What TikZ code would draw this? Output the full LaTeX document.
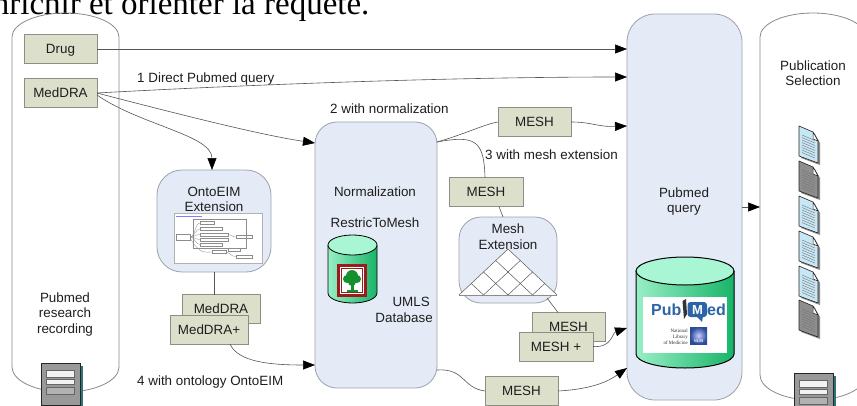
\documentclass[tikz,border=0pt]{standalone}
\usepackage{fontspec}
\setmainfont{Liberation Sans}
\newfontfamily\serifface{Liberation Serif}
\usetikzlibrary{arrows.meta}
\definecolor{boxfill}{HTML}{DCE0CA}
\definecolor{boxdraw}{HTML}{8E8F84}
\definecolor{rfill}{HTML}{E5EBF6}
\definecolor{rdraw}{HTML}{9CA2AC}
\definecolor{cyldraw}{HTML}{8A8A8A}
\definecolor{linecol}{HTML}{555555}
\definecolor{txt}{HTML}{1E1E1E}
\definecolor{pubblue}{HTML}{2D64A8}
\definecolor{gtop}{HTML}{A9F6D5}
\definecolor{gleft}{HTML}{98EFC6}
\definecolor{gright}{HTML}{17B468}
\definecolor{docblue}{HTML}{C8E7F6}
\definecolor{docgray}{HTML}{8E8E8E}
\definecolor{srvshadow}{HTML}{2F7476}
\definecolor{treegreen}{HTML}{14902C}
\definecolor{framered}{HTML}{9A1C1C}
\definecolor{nlmblue}{HTML}{2A4A9A}

\newcommand{\DocIcon}[3]{%
 \begin{scope}[shift={(#1,#2)}]
  \fill[black!45] (2,2) -- (16,8) -- (21,17) -- (21,39) -- (2,32) -- cycle;
  \draw[black!85, fill=#3, line width=0.6pt, line join=round] (0,0) -- (14,6) -- (19,15) -- (19,37) -- (0,30) -- cycle;
  \draw[black!85, fill=white, line width=0.5pt, line join=round] (14,6) -- (14,13) -- (19,15) -- cycle;
  \foreach \k in {0,...,7} \draw[black!55, line width=0.4pt] (3,9+2.5*\k) -- (16,14.6+2.5*\k);
 \end{scope}}

\newcommand{\ServerIcon}[2]{%
 \begin{scope}[shift={(#1,#2)}]
  \fill[srvshadow] (3,3) rectangle (42,45);
  \draw[black!85, fill=black!40, line width=1pt] (0,0) rectangle (39,42);
  \draw[black!60, fill=black!5, line width=0.5pt] (5,7) rectangle (33,14);
  \draw[black!60, fill=black!5, line width=0.5pt] (5,16) rectangle (33,21);
  \draw[black!60, fill=black!30, line width=0.5pt] (5,24) rectangle (33,31);
 \end{scope}}

\begin{document}
\begin{tikzpicture}[x=1pt,y=-1pt, font=\fontsize{13.4}{15.5}\selectfont]
\tikzset{
 gbox/.style={draw=boxdraw, fill=boxfill, line width=0.7pt, minimum width=73pt, minimum height=29pt, inner sep=0pt, outer sep=0pt, text height=9.6pt, text depth=0pt, text=txt},
 rbox/.style={draw=rdraw, fill=rfill, line width=0.8pt, rounded corners=#1, inner sep=0pt, outer sep=0pt},
 cyl/.style={draw=cyldraw, line width=0.8pt},
 conn/.style={draw=linecol, line width=0.6pt},
 arr/.style={conn, -{Triangle[length=12pt,width=9pt,color=black]}},
 lbl/.style={inner sep=0pt, anchor=base west, text=txt},
 tl/.style={inner sep=0pt, anchor=base, text=txt},
}
\useasboundingbox (0,0) rectangle (857,405);
\clip (0,0) rectangle (857,405);
\fill[white] (0,0) rectangle (857,405);

% cut-off caption
\node[anchor=base west, inner sep=0pt, font=\serifface\fontsize{33}{38}\selectfont, text=black] (cap) at (-22,14) {enrichir et orienter la requête.};

% open cylinders
\draw[cyl] (12,367) -- (12,37) arc[start angle=180,end angle=0,x radius=53.5pt,y radius=24pt] -- (119,367) arc[start angle=0,end angle=-180,x radius=53.5pt,y radius=25pt];
\draw[cyl] (760,375) -- (760,37) arc[start angle=180,end angle=0,x radius=53pt,y radius=24pt] -- (866,375) arc[start angle=0,end angle=-180,x radius=53pt,y radius=25pt];

% rounded boxes
\node[rbox=25pt, minimum width=114pt, minimum height=102pt] (onto) at (214,221) {};
\node[rbox=22pt, minimum width=122pt, minimum height=266pt] (norm) at (376,255) {};
\node[rbox=22pt, minimum width=98pt, minimum height=86pt] (meshext) at (508,260) {};
\node[rbox=28pt, minimum width=115pt, minimum height=386pt] (pubq) at (684.5,207) {};

% texts
\node[tl] (t1) at (65,302) {Pubmed};
\node[tl] (t2) at (65,317.5) {research};
\node[tl] (t3) at (65,333) {recording};
\node[tl] (t4) at (214,196) {OntoEIM};
\node[tl] (t5) at (214,211) {Extension};
\node[tl] (t6) at (375,196) {Normalization};
\node[tl] (t7) at (375,227) {RestricToMesh};
\node[tl, anchor=base east] (t8) at (430,306) {UMLS};
\node[tl, anchor=base east] (t9) at (433,322) {Database};
\node[tl] (t10) at (508,233) {Mesh};
\node[tl] (t11) at (508,249) {Extension};
\node[tl] (t12) at (684,197) {Pubmed};
\node[tl] (t13) at (684,212) {query};
\node[tl] (t14) at (813,70) {Publication};
\node[tl] (t15) at (813,85) {Selection};
\node[lbl] (l1) at (137,82) {1 Direct Pubmed query};
\node[lbl] (l2) at (330,113) {2 with normalization};
\node[lbl] (l3) at (485,159) {3 with mesh extension};
\node[lbl] (l4) at (137,385) {4 with ontology OntoEIM};

% OntoEIM screenshot
\draw[black!30, fill=white, line width=0.5pt] (174,213) rectangle (262,263);
\begin{scope}[black!45, line width=0.3pt]
 \draw[blue!50] (176,216) -- (202,216);
 \draw (193,219) rectangle (246,248);
 \draw (176,234) rectangle (190,240);
 \foreach \yy in {223,229,234.5,239.5,244.5} {\draw (190,237) .. controls (195,237) and (195,\yy) .. (200,\yy);}
 \draw (200,221.5) rectangle (214,224.5);
 \draw (200,227.5) rectangle (222,230.5);
 \draw (200,233) rectangle (228,236);
 \draw (200,238) rectangle (228,241);
 \draw (200,243) rectangle (222,246);
 \draw (228,234.5) .. controls (232,234.5) and (232,237) .. (236,237);
 \draw (236,235.5) rectangle (252,238.5);
 \draw (190,238) .. controls (200,255) and (205,252) .. (212,252);
 \draw (212,250.5) rectangle (226,253.5);
 \draw (226,252) .. controls (230,252) and (230,256.5) .. (236,256.5);
 \draw (236,255) rectangle (252,258);
 \draw (228,251) rectangle (240,248.5);
\end{scope}

% UMLS database icon
\shade[left color=gleft, right color=gright] (328,245) -- (328,293) arc[start angle=180,end angle=360,x radius=24.5pt,y radius=10pt] -- (377,245) -- cycle;
\draw[black, line width=0.8pt] (328,245) -- (328,293) arc[start angle=180,end angle=360,x radius=24.5pt,y radius=10pt] -- (377,245);
\draw[black, fill=gtop, line width=0.8pt] (352.5,245) ellipse[x radius=24.5pt, y radius=10pt];
\fill[framered] (337,264) rectangle (367,297);
\fill[white] (340,267) rectangle (364,294);
\draw[framered, line width=0.6pt] (341.5,268.5) rectangle (362.5,292.5);
\fill[treegreen] (352,276) circle[radius=6pt] (347,279) circle[radius=4pt] (357,279) circle[radius=4pt] (352,282) circle[radius=4pt];
\fill[treegreen] (351,281) rectangle (353.5,290);
\fill[treegreen] (347,290) rectangle (358,291.5);

% Mesh lattice
\fill[white] (508,249) -- (459,295) -- (557,295) -- cycle;
\begin{scope}[black!65, line width=0.5pt]
 \draw (459,295) -- (508,249) -- (557,295);
 \foreach \k in {1,2,3} {
  \draw (508+12.25*\k,249+11.5*\k) -- (459+24.5*\k,295);
  \draw (508-12.25*\k,249+11.5*\k) -- (557-24.5*\k,295);
 }
 \draw[black!45] (459,295) -- (557,295);
\end{scope}

% PubMed database icon
\shade[left color=gleft, right color=gright] (636,271) -- (636,354) arc[start angle=180,end angle=360,x radius=49pt,y radius=14pt] -- (734,271) -- cycle;
\draw[black, line width=1pt] (636,271) -- (636,354) arc[start angle=180,end angle=360,x radius=49pt,y radius=14pt] -- (734,271);
\draw[black, fill=gtop, line width=1pt] (685,271) ellipse[x radius=49pt, y radius=14pt];
\fill[white] (643,297) rectangle (727,353);
\node[inner sep=0pt, anchor=base west, text=pubblue, font=\bfseries\fontsize{16}{16}\selectfont] (pub) at (651,315) {Pub};
\fill[black!80] (682.5,301) -- (686,299) -- (687,314) -- (684,319) -- cycle;
\fill[pubblue, rounded corners=3pt] (687.5,302) rectangle (707,317);
\fill[pubblue] (696,316) -- (703,316) -- (702,322) -- cycle;
\node[inner sep=0pt, anchor=base, text=white, font=\bfseries\fontsize{13}{13}\selectfont] (mm) at (697.5,314.5) {M};
\node[inner sep=0pt, anchor=base west, text=pubblue, font=\bfseries\fontsize{16}{16}\selectfont] (ed) at (707,315) {ed};
\node[inner sep=0pt, anchor=base east, text=black!80, font=\serifface\fontsize{5}{5}\selectfont] (n1) at (688,332) {National};
\node[inner sep=0pt, anchor=base east, text=black!80, font=\serifface\fontsize{5}{5}\selectfont] (n2) at (688,338) {Library};
\node[inner sep=0pt, anchor=base east, text=black!80, font=\serifface\fontsize{5}{5}\selectfont] (n3) at (688,344) {of Medicine};
\shade[inner color=blue!20!white, outer color=nlmblue] (690,327) rectangle (707,344);
\node[inner sep=0pt, anchor=base, text=white, font=\serifface\bfseries\fontsize{4}{4}\selectfont] (nlm) at (698.5,342.5) {NLM};

% documents
\DocIcon{799}{126}{docblue}
\DocIcon{799}{161}{docgray}
\DocIcon{799}{196}{docblue}
\DocIcon{799}{231}{docblue}
\DocIcon{799}{266}{docblue}
\DocIcon{799}{300}{docgray}

% servers
\ServerIcon{41}{363}
\ServerIcon{794}{373}

% coordinates on borders
\coordinate (pqA) at (627,49);
\coordinate (pqB) at (627,77);
\coordinate (pqC) at (627,126);
\coordinate (pqD) at (627,328);
\coordinate (pqE) at (627,368);
\coordinate (pqF) at (742,207);
\coordinate (psA) at (760,207);
\coordinate (nmA) at (315,143);
\coordinate (nmB) at (437,142);
\coordinate (nmC) at (437,370);
\coordinate (nmD) at (315,365);
\coordinate (meA) at (547,298);

% green boxes
\node[gbox] (drug) at (60.5,49) {Drug};
\node[gbox] (meddra) at (60.5,93) {MedDRA};
\node[gbox] (mesh1) at (534.5,122) {MESH};
\node[gbox, minimum width=74pt] (mesh2) at (486,192) {MESH};
\node[gbox, minimum width=78pt] (meddraB) at (221,309) {MedDRA};
\node[gbox, minimum width=78pt] (meddraP) at (209,329.5) {MedDRA+};
\node[gbox] (meshB) at (568.5,327) {MESH};
\node[gbox, minimum width=74pt] (meshP) at (556,346.5) {MESH +};
\node[gbox] (mesh3) at (521.5,391) {MESH};

% connectors
\draw[arr] (drug.east) -- (pqA);
\draw[arr] (meddra.east) .. controls (260,84) and (460,77) .. (pqB);
\draw[arr] (meddra.east) .. controls (170,112) and (260,135) .. (nmA);
\draw[arr] ([yshift=-2pt]meddra.east) .. controls (140,125) and (212,135) .. (onto.north -| 212,0);
\draw[conn] (nmB) .. controls (465,134) and (485,124) .. (mesh1.west);
\draw[arr] (mesh1.east) .. controls (592,122) and (597,127) .. (pqC);
\draw[conn] (nmB) .. controls (475,135) and (484,140) .. (mesh2.north -| 485,0);
\draw[conn] (mesh2.south -| 499,0) -- (meshext.north -| 503,0);
\draw[conn] (meA) -- (meshB.north -| 558,0);
\draw[arr] (meshP.east) .. controls (612,348) and (612,333) .. (pqD);
\draw[conn] (onto.south) -- (meddraB.north -| onto.south);
\draw[arr] (meddraP.south -| 230,0) .. controls (238,362) and (270,365) .. (nmD);
\draw[conn] (nmC) .. controls (465,368) and (462,388) .. (mesh3.west);
\draw[arr] (mesh3.east) .. controls (595,389) and (610,380) .. (pqE);
\draw[arr] (pqF) -- (psA);
\end{tikzpicture}
\end{document}
